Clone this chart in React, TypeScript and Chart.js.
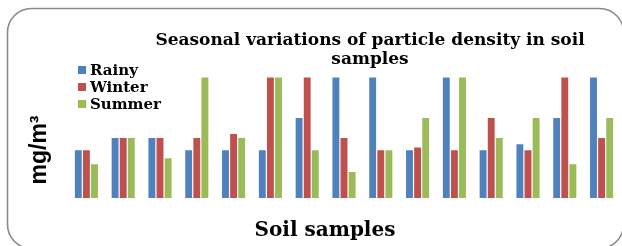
import React, { useEffect, useRef } from "react";
import { Chart, registerables } from "chart.js";

Chart.register(...registerables);

const categories = ["S1", "S2", "S3", "S4", "S5", "S6", "S7", "S8", "S9", "S10", "S11", "S12", "S13", "S14", "S15"];
const rainy = [1.2, 1.5, 1.5, 1.2, 1.2, 1.2, 2.0, 3.0, 3.0, 1.2, 3.0, 1.2, 1.35, 2.0, 3.0];
const winter = [1.2, 1.5, 1.5, 1.5, 1.6, 3.0, 3.0, 1.5, 1.2, 1.27, 1.2, 2.0, 1.2, 3.0, 1.5];
const summer = [0.85, 1.5, 1.0, 3.0, 1.5, 3.0, 1.2, 0.66, 1.2, 2.0, 3.0, 1.5, 2.0, 0.85, 2.0];
const seriesNames = ["Rainy", "Winter", "Summer"];
const seriesColors = ["#4F81BD", "#C0504D", "#9BBB59"];
const titleLines = ["Seasonal variations of particle density in soil", "samples"];
const yTitle = "mg/m³";
const xTitle = "Soil samples";

const decor = {
  id: "decor",
  beforeDraw(chart: any) {
    const ctx = chart.ctx;
    ctx.save();
    ctx.fillStyle = "#ffffff";
    ctx.fillRect(0, 0, chart.width, chart.height);
    const x = 7.5, y = 8.5, w = 616, h = 240, r = 24;
    ctx.beginPath();
    ctx.moveTo(x + r, y);
    ctx.lineTo(x + w - r, y);
    ctx.arcTo(x + w, y, x + w, y + r, r);
    ctx.lineTo(x + w, y + h - r);
    ctx.arcTo(x + w, y + h, x + w - r, y + h, r);
    ctx.lineTo(x + r, y + h);
    ctx.arcTo(x, y + h, x, y + h - r, r);
    ctx.lineTo(x, y + r);
    ctx.arcTo(x, y, x + r, y, r);
    ctx.closePath();
    ctx.strokeStyle = "#8a8a8a";
    ctx.lineWidth = 1.6;
    ctx.stroke();
    ctx.restore();
  },
  afterDraw(chart: any) {
    const ctx = chart.ctx;
    ctx.save();
    ctx.fillStyle = "#000000";
    ctx.textAlign = "center";
    ctx.textBaseline = "alphabetic";
    ctx.font = "bold 17px 'DejaVu Serif'";
    ctx.fillText(titleLines[0], 370, 45);
    ctx.fillText(titleLines[1], 370, 64);
    ctx.font = "bold 20px 'DejaVu Serif'";
    ctx.fillText(xTitle, 325, 236);
    ctx.save();
    ctx.translate(46, 150);
    ctx.rotate(-Math.PI / 2);
    ctx.font = "bold 23px 'Liberation Sans'";
    ctx.fillText(yTitle, 0, 0);
    ctx.restore();
    ctx.textAlign = "left";
    ctx.textBaseline = "middle";
    ctx.font = "bold 15px 'DejaVu Serif'";
    for (let i = 0; i < seriesNames.length; i++) {
      const cy = 70 + i * 17;
      ctx.fillStyle = seriesColors[i];
      ctx.fillRect(78, cy - 4, 8, 8);
      ctx.fillStyle = "#000000";
      ctx.fillText(seriesNames[i], 90, cy + 1);
    }
    ctx.restore();
  },
};

export default function App() {
  const ref = useRef<HTMLCanvasElement>(null);
  useEffect(() => {
    const series = [rainy, winter, summer];
    const chart = new Chart(ref.current!, {
      type: "bar",
      data: {
        labels: categories,
        datasets: series.map((d, i) => ({
          label: seriesNames[i],
          data: d,
          backgroundColor: seriesColors[i],
          borderColor: "rgba(255,255,255,0.25)",
          borderWidth: 0.6,
          barPercentage: 1,
          categoryPercentage: 0.661,
        })),
      },
      options: {
        animation: false,
        responsive: false,
        maintainAspectRatio: false,
        layout: { padding: { left: 68, right: 2, top: 77, bottom: 48 } },
        plugins: { legend: { display: false }, title: { display: false }, tooltip: { enabled: false } },
        scales: {
          x: { display: false },
          y: { display: false, min: 0, max: 3 },
        },
      },
      plugins: [decor],
    });
    return () => chart.destroy();
  }, []);
  return (
    <div style={{ position: "absolute", left: 0, top: 0, width: 622, height: 246 }}>
      <canvas ref={ref} width={622} height={246} style={{ width: 622, height: 246 }} />
    </div>
  );
}
